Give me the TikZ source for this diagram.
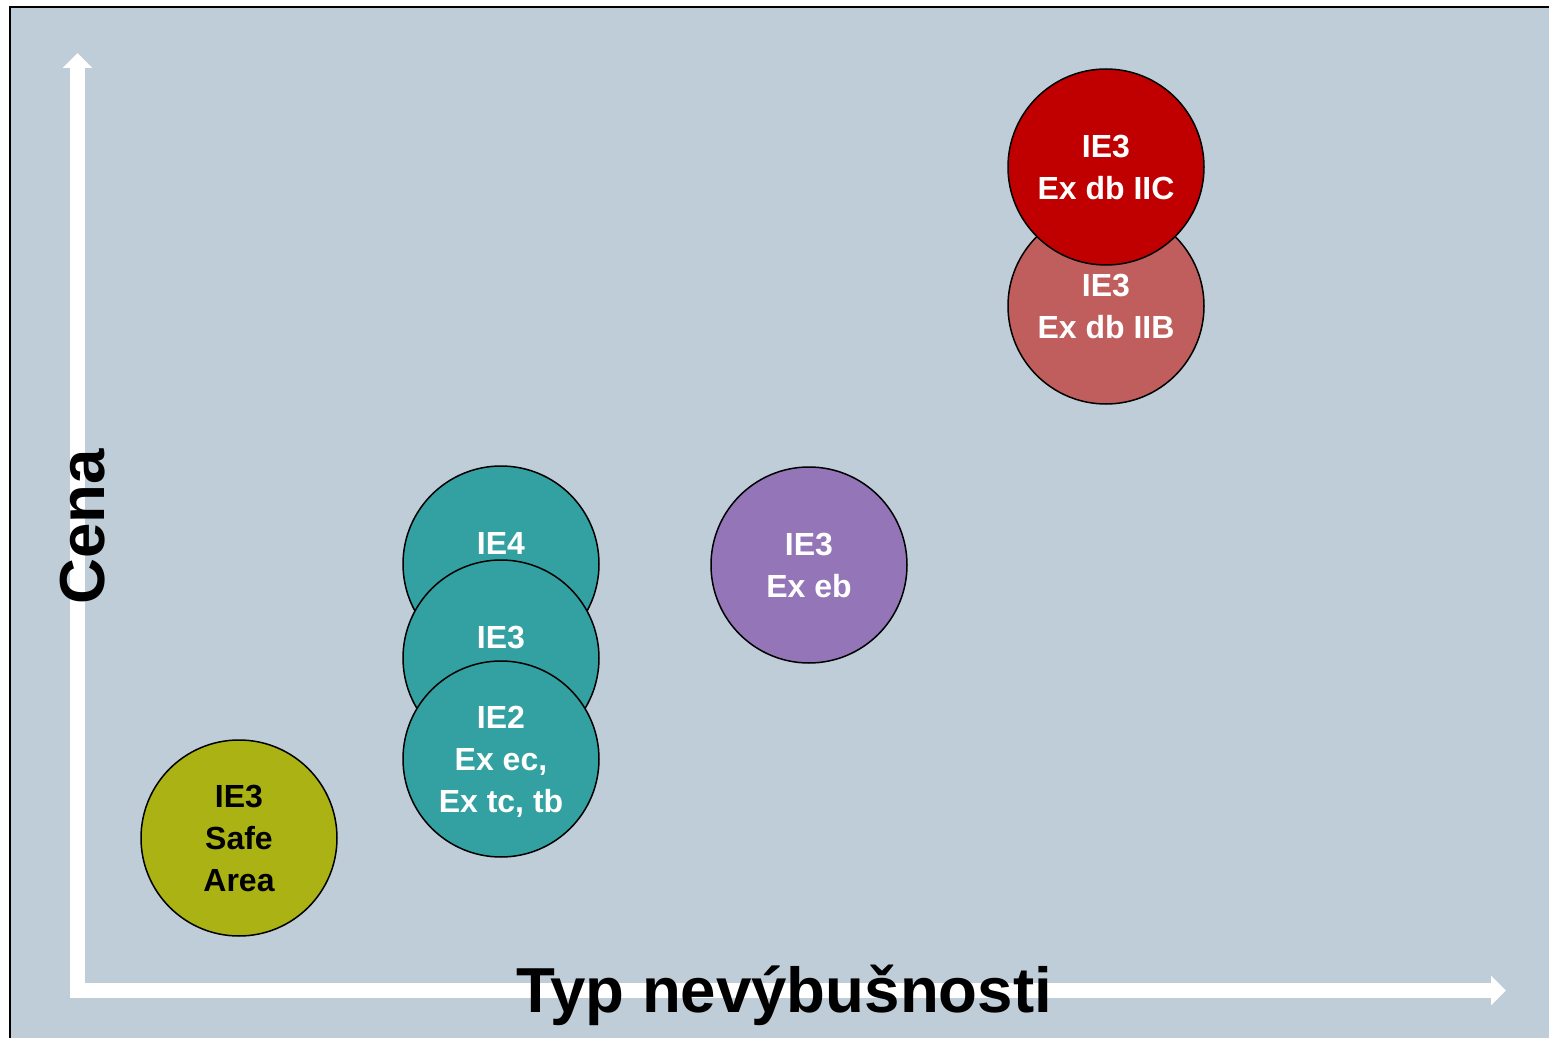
\documentclass[tikz,border=0pt]{standalone}
\usepackage{fontspec}
\setsansfont{Liberation Sans}
\usetikzlibrary{arrows.meta}
\definecolor{chartbg}{RGB}{191,205,216}
\definecolor{iicred}{RGB}{192,0,0}
\definecolor{iibred}{RGB}{192,94,94}
\definecolor{ieteal}{RGB}{51,161,161}
\definecolor{ebpurple}{RGB}{148,118,184}
\definecolor{safeolive}{RGB}{170,178,20}

\begin{document}
\begin{tikzpicture}[
      x=0.5pt, y=-0.5pt,
      font=\sffamily\bfseries,
      motor/.style={circle, draw=black, line width=0.75pt, minimum size=98pt, inner sep=0pt,
        align=center, text=white, font=\sffamily\bfseries\fontsize{16pt}{21pt}\selectfont},
      axis/.style={draw=white, line width=7.5pt, line join=miter,
        {Triangle[length=7.5pt,width=14.5pt]}-{Triangle[length=7.5pt,width=14.5pt]}},
      axislabel/.style={font=\sffamily\bfseries\fontsize{31.8pt}{36pt}\selectfont, anchor=base, inner sep=0pt}
    ]
      \useasboundingbox (0,0) rectangle (1549,1038);
      \clip (0,0) rectangle (1549,1038);
      \draw[fill=chartbg, line width=1pt] (9.5,7.5) rectangle (1600,1100);

      \coordinate (ytip) at (77.5,53);
      \coordinate (origin) at (77.5,990.5);
      \coordinate (xtip) at (1506,990.5);
      \draw[axis] (ytip) -- (origin) -- (xtip);

      \node[motor, fill=iibred] (iib) at (1106,306) {IE3\\Ex db IIB};
      \node[motor, fill=iicred] (iic) at (1106,167) {IE3\\Ex db IIC};
      \node[motor, fill=ebpurple] (eb) at (809,565) {IE3\\Ex eb};

      \node[motor, fill=ieteal] (ie4) at (501,564) {IE4\\\phantom{Ex}};
      \node[motor, fill=ieteal] (ie3) at (501,658) {IE3\\\phantom{Ex}};
      \node[motor, fill=ieteal] (ie2) at (501,759) {IE2\\Ex ec,\\Ex tc\smash{,} tb};
      \node[motor, fill=safeolive, text=black] (safe) at (239,838) {IE3\\Safe\\Area};

      \node[axislabel, rotate=90] (cena) at (104,527) {Cena};
      \node[axislabel] (typ) at (784,1012) {Typ nevýbušnosti};
    \end{tikzpicture}
\end{document}
